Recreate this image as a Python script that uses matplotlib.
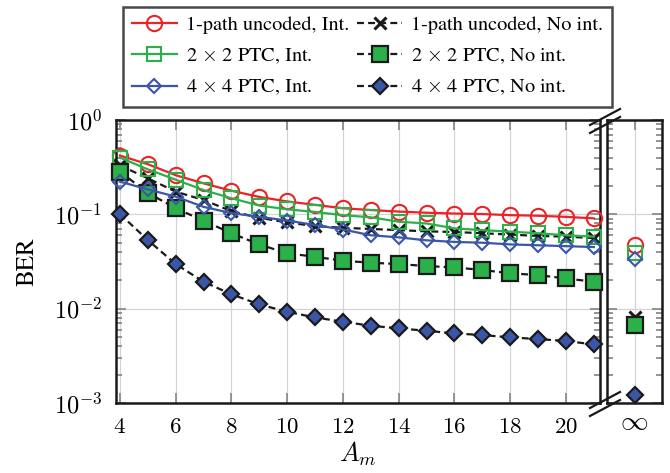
import matplotlib
matplotlib.use("Agg")
import matplotlib.pyplot as plt
import numpy as np
from matplotlib.lines import Line2D

plt.rcParams['font.family'] = ['STIXGeneral', 'DejaVu Serif']
plt.rcParams['mathtext.fontset'] = 'cm'
plt.rcParams['lines.scale_dashes'] = False

# data
A_m = list(range(4, 22))
uncoded_int = [0.42, 0.34, 0.26, 0.213, 0.178, 0.153, 0.137, 0.126, 0.116,
               0.111, 0.107, 0.104, 0.102, 0.1007, 0.098, 0.0966, 0.094, 0.0906]
uncoded_noint = [0.33, 0.241, 0.174, 0.142, 0.108, 0.092, 0.082, 0.075, 0.072,
                 0.070, 0.068, 0.066, 0.065, 0.063, 0.061, 0.059, 0.058, 0.056]
ptc2_int = [0.40, 0.30, 0.233, 0.181, 0.148, 0.124, 0.113, 0.106, 0.098,
            0.093, 0.0835, 0.080, 0.071, 0.068, 0.0655, 0.063, 0.060, 0.058]
ptc2_noint = [0.283, 0.169, 0.116, 0.0856, 0.063, 0.048, 0.0386, 0.0355, 0.0322,
              0.0307, 0.0297, 0.0283, 0.0274, 0.0257, 0.0237, 0.0227, 0.0209, 0.0193]
ptc4_int = [0.222, 0.184, 0.154, 0.12, 0.103, 0.094, 0.086, 0.077, 0.069,
            0.060, 0.057, 0.053, 0.051, 0.050, 0.048, 0.047, 0.046, 0.045]
ptc4_noint = [0.1007, 0.0534, 0.0297, 0.0193, 0.0142, 0.0111, 0.00927, 0.00807, 0.00727,
              0.00659, 0.00618, 0.00583, 0.00547, 0.00525, 0.00496, 0.00476, 0.00454, 0.00418]

# values at A_m = infinity
inf_vals = {
    'uncoded_int': 0.047, 'uncoded_noint': 0.0082,
    'ptc2_int': 0.0386, 'ptc2_noint': 0.0067,
    'ptc4_int': 0.034, 'ptc4_noint': 0.00121,
}

labels = ['1-path uncoded, Int.', '1-path uncoded, No int.',
          r'2 $\times$ 2 PTC, Int.', r'2 $\times$ 2 PTC, No int.',
          r'4 $\times$ 4 PTC, Int.', r'4 $\times$ 4 PTC, No int.']

red = '#ec2227'
green = '#2bb04a'
blue = '#3a57a7'
dash = (5, 3)

styles = {
    'uncoded_int': dict(color=red, marker='o', ms=11, mfc='none', mec=red, mew=1.5, lw=1.6),
    'uncoded_noint': dict(color='#1a1a1a', marker='x', ms=9, mec='#1a1a1a', mew=2.2, lw=1.6, dashes=dash),
    'ptc2_int': dict(color=green, marker='s', ms=10, mfc='none', mec=green, mew=1.5, lw=1.6),
    'ptc2_noint': dict(color='#1a1a1a', marker='s', ms=11, mfc=green, mec='#1a1a1a', mew=1.6, lw=1.6, dashes=dash),
    'ptc4_int': dict(color=blue, marker='D', ms=7, mfc='none', mec=blue, mew=1.5, lw=1.6),
    'ptc4_noint': dict(color='#1a1a1a', marker='D', ms=8, mfc=blue, mec='#1a1a1a', mew=1.6, lw=1.6, dashes=dash),
}
series = {
    'uncoded_int': uncoded_int, 'uncoded_noint': uncoded_noint,
    'ptc2_int': ptc2_int, 'ptc2_noint': ptc2_noint,
    'ptc4_int': ptc4_int, 'ptc4_noint': ptc4_noint,
}
order = ['uncoded_int', 'uncoded_noint', 'ptc2_int', 'ptc2_noint', 'ptc4_int', 'ptc4_noint']

W, H = 670, 473
fig = plt.figure(figsize=(6.7, 4.73), dpi=100)
ax = fig.add_axes([116 / W, 1 - 403 / H, 484 / W, 283 / H])
ax2 = fig.add_axes([607 / W, 1 - 403 / H, 55 / W, 283 / H])

handles = []
for key in order:
    h, = ax.plot(A_m, series[key], clip_on=False, zorder=3, **styles[key])
    handles.append(h)
    ax2.plot([0], [inf_vals[key]], clip_on=False, zorder=3, **styles[key])

tick_col = '#8c8c8c'
for a in (ax, ax2):
    a.set_yscale('log')
    a.set_ylim(1e-3, 1)
    a.grid(True, which='major', color='#d4d4d4', lw=0.9)
    a.set_axisbelow(True)
    a.tick_params(which='both', direction='in', color=tick_col, width=1.3,
                  top=True, right=True, labelsize=16.5)
    a.tick_params(which='major', length=7)
    a.tick_params(which='minor', length=4)
    a.tick_params(axis='x', pad=10)
    a.tick_params(axis='y', pad=10, labelsize=17.5)
    for s in a.spines.values():
        s.set_linewidth(1.8)
        s.set_color('#1a1a1a')

ax.set_xlim(3.86, 21.22)
ax.set_xticks(range(4, 21, 2))
ax.set_xticklabels([rf'${v}$' for v in range(4, 21, 2)])
ax.xaxis.set_minor_locator(matplotlib.ticker.NullLocator())
ax.set_yticks([1e-3, 1e-2, 1e-1, 1])
ax.set_yticklabels([r'$10^{-3}$', r'$10^{-2}$', r'$10^{-1}$', r'$10^{0}$'])
ax.set_xlabel(r'$A_m$', fontsize=19, labelpad=1)
ax.set_ylabel('BER', fontsize=18, labelpad=10)

ax2.set_xlim(-1, 1)
ax2.set_xticks([0])
ax2.set_xticklabels([r'$\infty$'], fontsize=20)
ax2.tick_params(axis='x', pad=5)
ax2.xaxis.set_minor_locator(matplotlib.ticker.NullLocator())
ax2.tick_params(axis='y', which='both', labelleft=False)

# axis break marks
for yb in (121, 404):
    for off in (-4, 4):
        x0, x1 = 590, 620
        y0, y1 = yb + 8 + off, yb - 8 + off
        fig.add_artist(Line2D([x0 / W, x1 / W], [1 - y0 / H, 1 - y1 / H],
                              transform=fig.transFigure, color='#1a1a1a', lw=1.6))

# legend fills columns first, so reorder to read row by row
leg = fig.legend([handles[i] for i in (0, 2, 4, 1, 3, 5)],
                 [labels[i] for i in (0, 2, 4, 1, 3, 5)],
                 loc='upper left', bbox_to_anchor=(123 / W, 1 - 7 / H),
                 ncol=2, fontsize=14.6, frameon=True, fancybox=False, edgecolor='#1a1a1a',
                 handlelength=2.2, handletextpad=0.45, columnspacing=0.4,
                 labelspacing=0.6, borderpad=0.45, borderaxespad=0)
leg.get_frame().set_linewidth(1.8)

fig.savefig('out.png', dpi=100)
